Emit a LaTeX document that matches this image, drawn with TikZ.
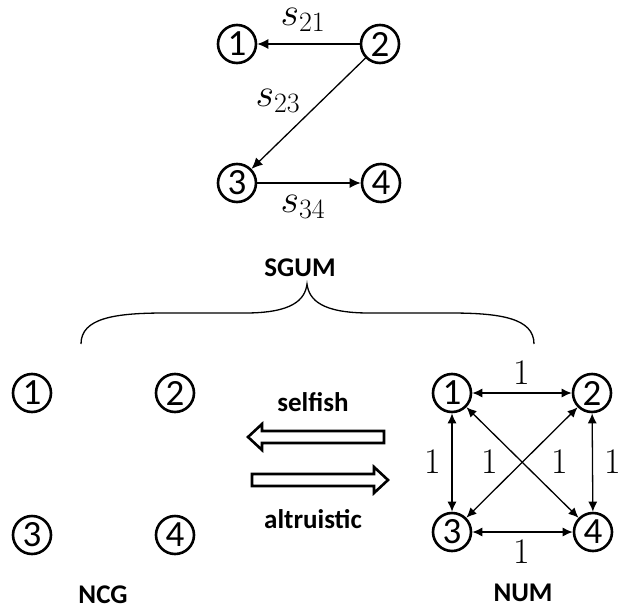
\documentclass[tikz,border=0pt]{standalone}
\usepackage{fix-cm}
\usepackage{fontspec}
\newfontfamily\calfont{Carlito}
\usetikzlibrary{arrows.meta}
\tikzset{
  vtx/.style={circle, draw, line width=2.6pt, minimum size=38pt, inner sep=0pt,
    font=\calfont\fontsize{37}{38}\selectfont},
  edge/.style={line width=1.3pt, -{Latex[length=11pt,width=10pt]}},
  bedge/.style={line width=1.3pt, {Latex[length=10pt,width=9pt]}-{Latex[length=10pt,width=9pt]}},
  mlab/.style={inner sep=0pt, font=\fontsize{40}{44}\selectfont},
  wlab/.style={inner sep=0pt, font=\fontsize{36}{38}\selectfont},
  title/.style={font=\calfont\bfseries\fontsize{27}{30}\selectfont},
  blockarrow/.style={draw, line width=2.6pt, line join=miter},
}
\begin{document}
\begin{tikzpicture}[x=1pt,y=-1pt]
\useasboundingbox (0,0) rectangle (618,613);
% top graph (SGUM)
\node[vtx] (t1) at (237,44) {1};
\node[vtx] (t2) at (380,44) {2};
\node[vtx] (t3) at (237,183) {3};
\node[vtx] (t4) at (381,183) {4};
\draw[edge] (t2) -- (t1);
\draw[edge] (t2) -- (t3);
\draw[edge] (t3) -- (t4);
\node[mlab] (l21) at (303,20) {$s_{21}$};
\node[mlab] (l23) at (278,101) {$s_{23}$};
\node[mlab] (l34) at (303,207) {$s_{34}$};
\node[title] (sgum) at (300,268) {SGUM};
% brace
\draw[line width=1.3pt] (81,344) .. controls (81,318) and (115,313) .. (165,313)
  -- (245,313) .. controls (292,313) and (305,300) .. (307,284)
  .. controls (309,300) and (322,313) .. (369,313)
  -- (450,313) .. controls (500,313) and (534,318) .. (534,344);
% NCG
\node[vtx] (n1) at (32,393) {1};
\node[vtx] (n2) at (175,393) {2};
\node[vtx] (n3) at (32,535) {3};
\node[vtx] (n4) at (175,535) {4};
\node[title] (ncg) at (103,595) {NCG};
% block arrows
\node[title] (selfish) at (313,402) {selfish};
\node[title] (altru) at (313,519) {altruistic};
\draw[blockarrow] (384,431) -- (262,431) -- (262,424) -- (248,437) -- (262,450)
  -- (262,443) -- (384,443) -- cycle;
\draw[blockarrow] (252,474) -- (374,474) -- (374,467) -- (388,480) -- (374,493)
  -- (374,486) -- (252,486) -- cycle;
% NUM
\node[vtx] (m1) at (452,393) {1};
\node[vtx] (m2) at (592,393) {2};
\node[vtx] (m3) at (452,532) {3};
\node[vtx] (m4) at (593,532) {4};
\draw[bedge] (m1) -- (m2);
\draw[bedge] (m3) -- (m4);
\draw[bedge] (m1) -- (m3);
\draw[bedge] (m2) -- (m4);
\draw[bedge] (m1) -- (m4);
\draw[bedge] (m2) -- (m3);
\node[wlab] (w12) at (522,373) {1};
\node[wlab] (w13) at (433,462) {1};
\node[wlab] (w23) at (490,462) {1};
\node[wlab] (w14) at (560,462) {1};
\node[wlab] (w24) at (613,462) {1};
\node[wlab] (w34) at (522,552) {1};
\node[title] (num) at (523,593) {NUM};
\end{tikzpicture}
\end{document}
